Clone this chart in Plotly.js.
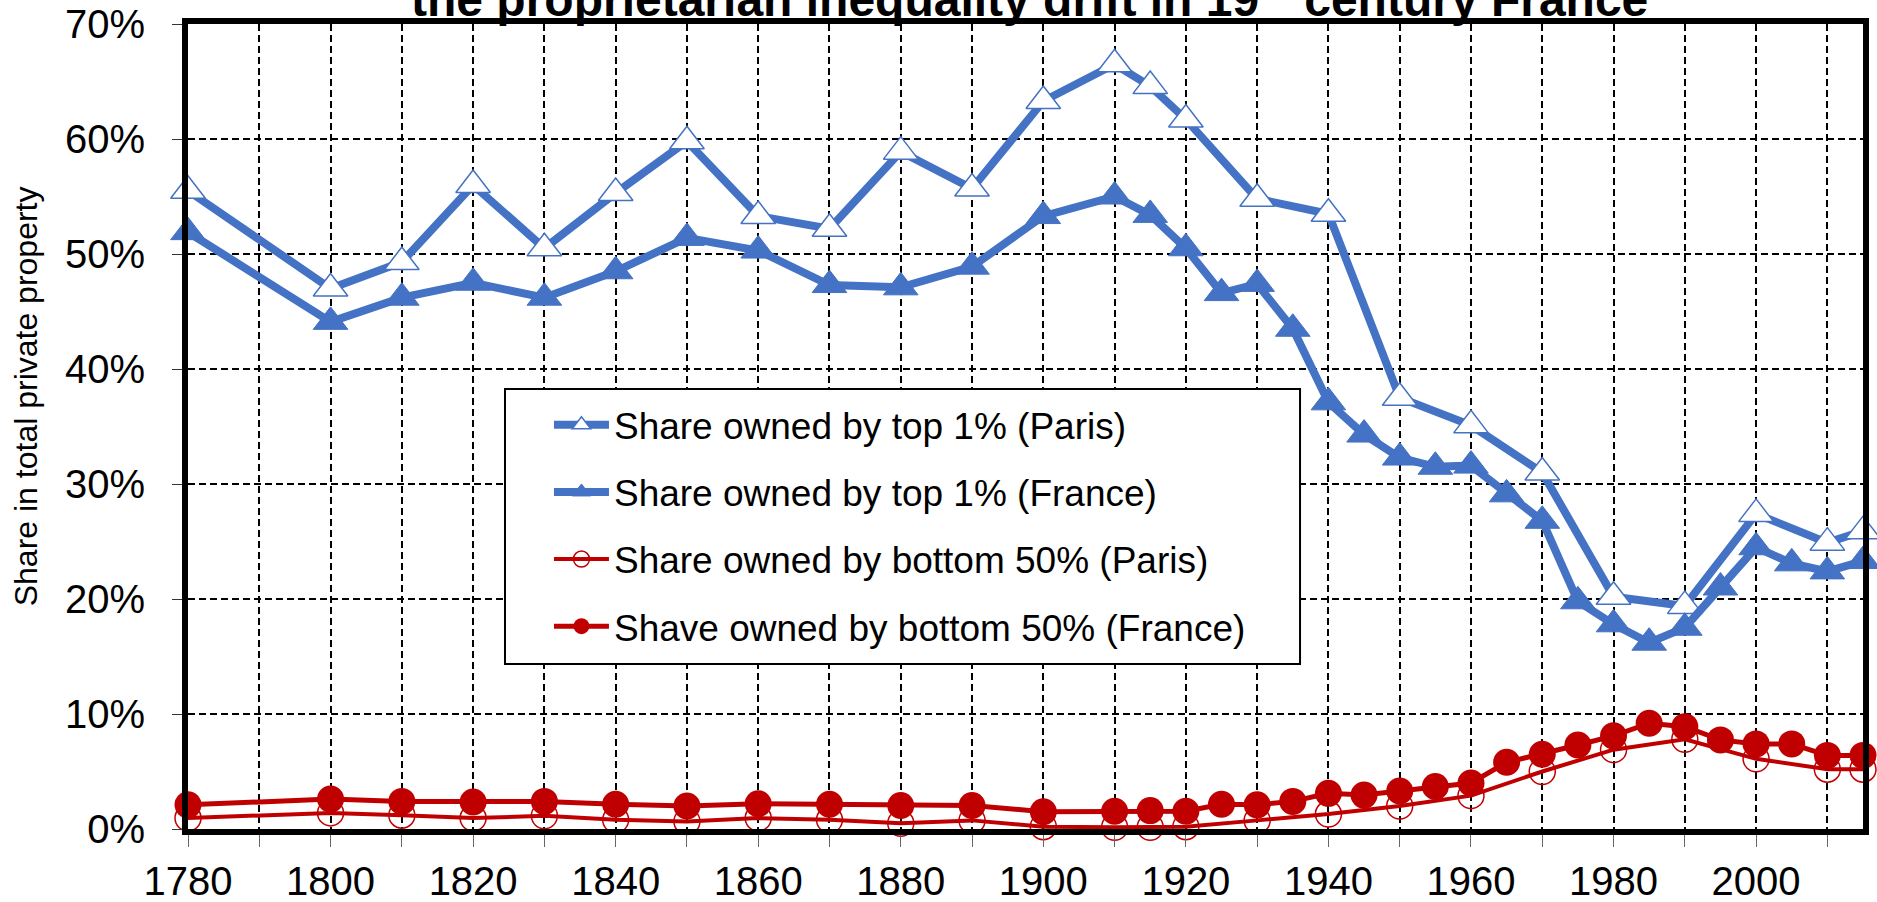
<!DOCTYPE html>
<html>
<head>
<meta charset="utf-8">
<script src="https://cdn.plot.ly/plotly-3.0.1.min.js"></script>
<style>
  html, body { margin: 0; padding: 0; background: #ffffff; }
  #chart { width: 1877px; height: 902px; }
</style>
</head>
<body>
<div id="chart"></div>
<script>
// ---- Data (values in % of total private property) ----
const parisTopYears = [1780, 1800, 1810, 1820, 1830, 1840, 1850, 1860, 1870, 1880, 1890, 1900, 1910, 1915, 1920, 1930, 1940, 1950, 1960, 1970, 1980, 1990, 2000, 2010, 2015];
const parisTop1 = [55.5, 47.0, 49.3, 56.0, 50.5, 55.3, 59.8, 53.3, 52.2, 58.9, 55.7, 63.3, 66.5, 64.6, 61.7, 54.8, 53.5, 37.5, 35.1, 31.0, 20.2, 19.4, 27.4, 24.9, 25.9];

const franceTopYears = [1780, 1800, 1810, 1820, 1830, 1840, 1850, 1860, 1870, 1880, 1890, 1900, 1910, 1915, 1920, 1925, 1930, 1935, 1940, 1945, 1950, 1955, 1960, 1965, 1970, 1975, 1980, 1985, 1990, 1995, 2000, 2005, 2010, 2015];
const franceTop1 = [51.9, 44.1, 46.2, 47.5, 46.2, 48.5, 51.4, 50.3, 47.3, 47.1, 48.9, 53.3, 55.0, 53.4, 50.5, 46.6, 47.4, 43.5, 37.1, 34.3, 32.3, 31.5, 31.6, 29.1, 26.8, 19.8, 17.8, 16.2, 17.5, 21.0, 24.5, 23.1, 22.4, 23.3];

const parisBottomYears = [1780, 1800, 1810, 1820, 1830, 1840, 1850, 1860, 1870, 1880, 1890, 1900, 1910, 1915, 1920, 1930, 1940, 1950, 1960, 1970, 1980, 1990, 2000, 2010, 2015];
const parisBottom50 = [0.95, 1.4, 1.2, 0.95, 1.15, 0.8, 0.65, 0.95, 0.8, 0.5, 0.75, 0.2, 0.15, 0.15, 0.2, 0.75, 1.3, 2.0, 2.9, 5.0, 6.9, 7.8, 6.1, 5.2, 5.2];

const franceBottomYears = [1780, 1800, 1810, 1820, 1830, 1840, 1850, 1860, 1870, 1880, 1890, 1900, 1910, 1915, 1920, 1925, 1930, 1935, 1940, 1945, 1950, 1955, 1960, 1965, 1970, 1975, 1980, 1985, 1990, 1995, 2000, 2005, 2010, 2015];
const franceBottom50 = [2.1, 2.6, 2.4, 2.35, 2.4, 2.15, 2.0, 2.2, 2.15, 2.05, 2.05, 1.5, 1.55, 1.6, 1.55, 2.15, 2.1, 2.4, 3.1, 2.95, 3.3, 3.7, 4.0, 5.8, 6.5, 7.3, 8.1, 9.2, 8.9, 7.75, 7.4, 7.4, 6.4, 6.4];

// ---- Labels ----
const seriesNames = [
  'Share owned by top 1% (Paris)',
  'Share owned by top 1% (France)',
  'Share owned by bottom 50% (Paris)',
  'Shave owned by bottom 50% (France)'
];
const xTickYears = [1780, 1790, 1800, 1810, 1820, 1830, 1840, 1850, 1860, 1870, 1880, 1890, 1900, 1910, 1920, 1930, 1940, 1950, 1960, 1970, 1980, 1990, 2000, 2010];
const xTickLabels = ['1780', '', '1800', '', '1820', '', '1840', '', '1860', '', '1880', '', '1900', '', '1920', '', '1940', '', '1960', '', '1980', '', '2000', ''];
const yTickValues = [0, 10, 20, 30, 40, 50, 60, 70];
const yTickLabels = ['0%', '10%', '20%', '30%', '40%', '50%', '60%', '70%'];
const titleText = 'the proprietarian inequality drift in 19<sup>th</sup> century France';
const yTitleText = 'Share in total private property';

const BLUE = '#4472C4';
const RED = '#C00000';
const FONT = 'Arial, "Liberation Sans", sans-serif';

const traces = [
  {
    x: parisTopYears, y: parisTop1, name: seriesNames[0], legendgroup: 'g1',
    type: 'scatter', mode: 'lines+markers', cliponaxis: false,
    line: { color: BLUE, width: 8 },
    marker: { symbol: 'triangle-up', size: 30, color: '#ffffff', line: { color: BLUE, width: 1.5 } }
  },
  {
    x: franceTopYears, y: franceTop1, name: seriesNames[1], legendgroup: 'g2',
    type: 'scatter', mode: 'lines+markers', cliponaxis: false,
    line: { color: BLUE, width: 8 },
    marker: { symbol: 'triangle-up', size: 30, color: BLUE, line: { color: BLUE, width: 1 } }
  },
  {
    x: parisBottomYears, y: parisBottom50, name: seriesNames[2], legendgroup: 'g3',
    type: 'scatter', mode: 'lines+markers', cliponaxis: false,
    line: { color: RED, width: 4 },
    marker: { symbol: 'circle-open', size: 26, color: RED, line: { width: 1.5 } }
  },
  {
    x: franceBottomYears, y: franceBottom50, name: seriesNames[3], legendgroup: 'g4',
    type: 'scatter', mode: 'lines+markers', cliponaxis: false,
    line: { color: RED, width: 5 },
    marker: { symbol: 'circle', size: 27, color: RED }
  }
];

const layout = {
  width: 1877, height: 902,
  margin: { l: 188, r: 14, t: 24, b: 73, pad: 0 },
  paper_bgcolor: '#ffffff', plot_bgcolor: '#ffffff',
  font: { family: FONT, color: '#000000' },
  showlegend: true,
  legend: {
    x: 0.2155, xanchor: 'left', y: 0.540, yanchor: 'top',
    bgcolor: 'rgba(0,0,0,0)', borderwidth: 0,
    font: { family: FONT, size: 37, color: '#000000' },
    traceorder: 'grouped', tracegroupgap: 16, itemwidth: 55
  },
  xaxis: {
    range: [1780, 2015], type: 'linear',
    tickmode: 'array', tickvals: xTickYears, ticktext: xTickLabels,
    ticks: 'outside', ticklen: 12, tickwidth: 1, tickcolor: '#666666',
    tickfont: { family: FONT, size: 40, color: '#000000' },
    ticklabelstandoff: 0,
    showgrid: true, gridcolor: '#000000', gridwidth: 2, griddash: '7px,4px',
    showline: true, linecolor: '#000000', linewidth: 6, mirror: true,
    zeroline: false, fixedrange: true
  },
  yaxis: {
    range: [0, 70],
    tickmode: 'array', tickvals: yTickValues, ticktext: yTickLabels,
    ticks: 'outside', ticklen: 10, tickwidth: 1, tickcolor: '#333333',
    tickfont: { family: FONT, size: 40, color: '#000000' },
    ticklabelstandoff: 19,
    showgrid: true, gridcolor: '#000000', gridwidth: 2, griddash: '7px,4px',
    showline: true, linecolor: '#000000', linewidth: 6, mirror: true,
    zeroline: false, fixedrange: true
  },
  shapes: [
    {
      type: 'rect', xref: 'paper', yref: 'paper', layer: 'above',
      x0: 0.18925, x1: 0.6639, y0: 0.205, y1: 0.5466,
      line: { color: '#000000', width: 2 }, fillcolor: '#ffffff'
    }
  ],
  annotations: [
    {
      text: '<b>' + titleText + '</b>', xref: 'paper', yref: 'paper',
      x: 0.5025, xanchor: 'center', y: 1.0, yanchor: 'bottom', yshift: -4,
      showarrow: false, font: { family: FONT, size: 48, color: '#000000' }
    },
    {
      text: yTitleText, xref: 'paper', yref: 'paper', textangle: -90,
      x: -0.0965, xanchor: 'center', y: 0.538, yanchor: 'middle',
      showarrow: false, font: { family: FONT, size: 32, color: '#000000' }
    }
  ]
};

Plotly.newPlot('chart', traces, layout, { displayModeBar: false, staticPlot: true });
</script>
</body>
</html>
